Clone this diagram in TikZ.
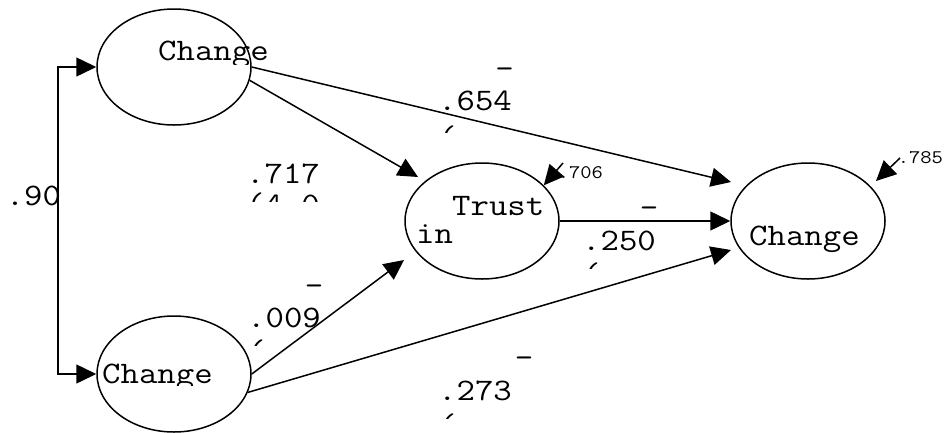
\documentclass[tikz,border=0pt]{standalone}
\usepackage{fontspec}
\usepackage{graphicx}
\newfontfamily\cour{Latin Modern Mono}
\newcommand{\wideTxt}[1]{\scalebox{1.143}[1]{#1}}
\usetikzlibrary{arrows.meta,shapes.geometric}
\begin{document}
\begin{tikzpicture}[x=1pt,y=-1pt,
  ell/.style={draw,line width=1.5pt,ellipse,minimum width=154pt,minimum height=116pt,inner sep=0pt},
  conn/.style={line width=1.5pt,-{Triangle[length=20pt,width=19pt]}},
  both/.style={line width=1.5pt,{Triangle[length=20pt,width=19pt]}-{Triangle[length=20pt,width=19pt]}},
  big/.style={font=\cour\fontsize{31.3}{36}\selectfont,inner sep=0pt,anchor=base west},
  small/.style={font=\cour\fontsize{19.2}{22}\selectfont,inner sep=0pt,anchor=base west},
  dashmark/.style={font=\cour\fontsize{31.3}{36}\selectfont,inner sep=0pt,anchor=base}]
\useasboundingbox (0,0) rectangle (951,432);
% ellipses
\node[ell] (c1) at (174,67) {};
\node[ell] (c2) at (174,374) {};
\node[ell] (tr) at (482,221) {};
\node[ell] (c3) at (808,221) {};
% texts in ellipses
\begin{scope}\clip (140,20) rectangle (300,64);
\node[big] (c1t) at (158,60) {\wideTxt{Change}};
\end{scope}
\begin{scope}\clip (95,340) rectangle (240,385);
\node[big] (c2t) at (102,383) {\wideTxt{Change}};
\end{scope}
\node[big] (trt1) at (452,215) {\wideTxt{Trust}};
\node[big] (trt2) at (416,243) {\wideTxt{in}};
\node[big] (c3t) at (749,245) {\wideTxt{Change}};
% coordinates
\coordinate (bx) at (58,221);
\coordinate (t1) at (418,177);
\coordinate (t2) at (731,182);
\coordinate (t3) at (404,260);
\coordinate (t4) at (731,250);
\coordinate (e706) at (563,163);
\coordinate (e785) at (900,158);
\coordinate (t785) at (876,181);
% connectors
\draw[both] (c1.west) -| (bx) |- (c2.west);
\draw[conn] (c1.-10) -- (t1);
\draw[conn] (c1.east) -- (t2);
\draw[conn] (c2.east) -- (t3);
\draw[conn] (c2.-14) -- (t4);
\draw[conn] (tr.east) -- (c3.west);
\draw[conn] (e706) -- (tr.30);
\draw[conn] (e785) -- (t785);
% labels
\node[big] (l90) at (5.6,205) {\wideTxt{.90}};
\node[big] (l717) at (246,183) {\wideTxt{.717}};
\begin{scope}\clip (240,186) rectangle (340,201);
\node[big] (l717b) at (246,214) {\wideTxt{(4.0}};
\end{scope}
\node[dashmark] (d654) at (504.5,78) {\wideTxt{-}};
\node[big] (l654) at (438,110) {\wideTxt{.654}};
\begin{scope}\clip (430,115) rectangle (470,132);
\node[big] (p654) at (438,147.5) {\wideTxt{(}};
\end{scope}
\node[dashmark] (d250) at (649,217) {\wideTxt{-}};
\node[big] (l250) at (582,250) {\wideTxt{.250}};
\begin{scope}\clip (575,255) rectangle (615,268);
\node[big] (p250) at (582,284.5) {\wideTxt{(}};
\end{scope}
\node[dashmark] (d009) at (314,295) {\wideTxt{-}};
\node[big] (l009) at (247,327) {\wideTxt{.009}};
\begin{scope}\clip (240,332) rectangle (280,345);
\node[big] (p009) at (247,361.5) {\wideTxt{(}};
\end{scope}
\node[dashmark] (d273) at (524,367) {\wideTxt{-}};
\node[big] (l273) at (438,400) {\wideTxt{.273}};
\begin{scope}\clip (430,405) rectangle (470,418);
\node[big] (p273) at (438,435.5) {\wideTxt{(}};
\end{scope}
\node[small] (l706) at (557.6,178) {\wideTxt{.706}};
\node[small] (l785) at (897.6,163) {\wideTxt{.785}};
\end{tikzpicture}
\end{document}
